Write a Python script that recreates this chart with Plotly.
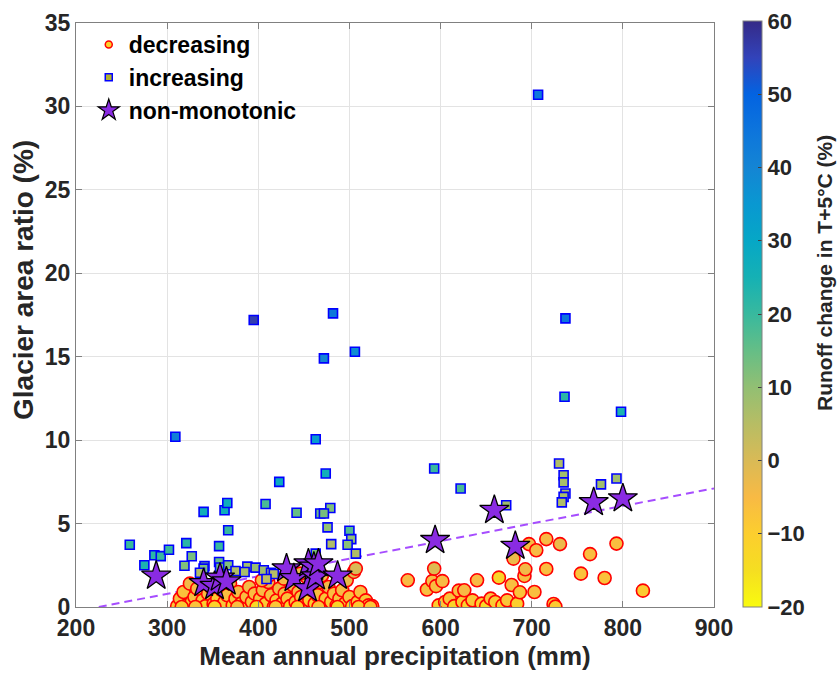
import plotly.graph_objects as go

# ---------------- data ----------------
# decreasing (circles): precipitation (mm), glacier area ratio (%), runoff change (%)
dec_x = [311, 314, 318, 321, 325, 327, 330, 333, 336, 339,
         342, 345, 348, 351, 355, 357, 360, 363, 366, 369,
         372, 375, 378, 381, 384, 387, 390, 393, 396, 399,
         402, 405, 408, 411, 414, 417, 420, 423, 426, 429,
         432, 435, 438, 441, 444, 447, 450, 453, 456, 459,
         462, 465, 468, 471, 474, 477, 480, 483, 486, 489,
         492, 495, 497, 500, 503, 505, 507, 509, 512, 515,
         518, 521, 525, 316, 331, 352, 377, 398, 419, 443,
         466, 487, 510, 523, 412, 428, 446, 470, 404, 458,
         564, 585, 591, 593, 595, 598, 602, 605, 610, 615,
         620, 624, 626, 630, 635, 640, 645, 650, 655, 660,
         664, 668, 673, 678, 680, 684, 687, 692, 693, 697,
         703, 705, 716, 716, 724, 726, 731, 754, 764, 780,
         793, 822]
dec_y = [0.05, 0.5, 0.9, 0.1, 1.4, 0.3, 0.6, 1.1, 0.0, 0.4,
         0.05, 0.8, 1.2, 0.2, 0.5, 0.0, 1.0, 0.3, 0.7, 1.4,
         0.1, 0.5, 0.9, 0.2, 0.0, 0.6, 1.2, 0.3, 0.8, 0.05,
         0.5, 1.0, 0.2, 1.5, 0.7, 0.0, 0.4, 1.1, 0.2, 0.8,
         0.5, 0.05, 1.3, 0.3, 0.9, 0.6, 0.1, 1.8, 0.4, 1.0,
         0.2, 0.7, 1.5, 0.0, 0.5, 1.2, 0.3, 0.8, 0.1, 0.5,
         1.0, 0.2, 1.6, 0.6, 0.05, 2.1, 2.3, 0.3, 0.9, 0.0,
         0.4, 0.1, 0.05, 0.0, 0.0, 0.0, 0.0, 0.0, 0.0, 0.0,
         0.0, 0.0, 0.0, 0.0, 1.9, 1.7, 2.0, 1.9, 1.6, 2.2,
         1.6, 1.05, 1.55, 2.3, 1.25, 0.1, 1.55, 0.3, 0.5, 0.05,
         0.98, 0.3, 1.0, 0.1, 0.4, 1.6, 0.2, 0.05, 0.5, 0.3,
         1.76, 0.1, 0.4, 1.32, 2.9, 0.2, 0.88, 1.86, 2.26, 3.77,
         0.9, 3.4, 4.07, 2.28, 0.18, 0.02, 3.77, 2.0, 3.17, 1.74,
         3.8, 0.98]
dec_c = [-8, -6, -7, -10, -4, -9, -6, -5, -12, -8,
         -10, -6, -5, -7, -9, -13, -4, -8, -6, -3,
         -11, -7, -5, -9, -12, -6, -4, -8, -6, -10,
         -7, -5, -9, -3, -6, -13, -8, -4, -10, -6,
         -7, -12, -4, -8, -5, -7, -11, -2, -9, -5,
         -10, -6, -3, -14, -8, -4, -9, -6, -12, -7,
         -5, -10, -3, -7, -12, -1, 0, -9, -6, -14,
         -8, -11, -10, -9, -7, -11, -6, -13, -8, -10,
         -7, -12, -9, -8, -4, -5, -3, -4, -6, -2,
         -5, -6, -5, -1, -6, -10, -5, -8, -7, -12,
         -6, -9, -5, -11, -8, -5, -10, -13, -7, -9,
         -12, -11, -8, -6, -3, -10, -7, -6, -4, -5,
         -6, -5, -5, -6, -8, -9, -3, -7, -6, -7,
         -6, -9]

# increasing (squares)
inc_x = [707, 737, 395, 482, 472, 506, 309, 463, 423, 340,
         363, 366, 408, 442, 367, 259, 286, 293, 275, 302,
         321, 327, 319, 357, 341, 340, 336, 357, 358, 367,
         375, 388, 385, 397, 406, 414, 417, 409, 463, 468,
         474, 593, 622, 672, 479, 472, 476, 500, 502, 480,
         498, 507, 736, 798, 730, 735, 735, 737, 735, 733,
         776, 793]
inc_y = [30.7, 17.3, 17.2, 17.6, 14.9, 15.3, 10.2, 10.05, 7.5, 5.7,
         5.8, 6.23, 6.17, 5.65, 4.6, 3.73, 3.1, 3.05, 2.5, 3.43,
         3.83, 3.04, 2.47, 3.65, 2.45, 2.3, 2.05, 2.7, 2.37, 2.5,
         2.16, 2.42, 2.1, 2.36, 2.2, 2.05, 1.98, 1.68, 3.2, 5.6,
         8.0, 8.3, 7.1, 6.1, 5.93, 5.6, 4.77, 4.57, 4.07, 3.77,
         3.73, 3.2, 12.6, 11.7, 8.6, 7.9, 7.47, 6.8, 6.6, 6.27,
         7.35, 7.7]
inc_c = [44, 45, 56, 44, 40, 38, 42, 34, 28, 26,
         27, 27, 18, 15, 20, 20, 22, 20, 24, 20,
         22, 13, 12, 20, 13, 12, 6, 15, 14, 12,
         6, 8, 7, 9, 8, 6, 5, 4, 12, 14,
         26, 20, 18, 8, 12, 13, 10, 17, 10, 6,
         11, 6, 22, 24, 6, 8, 7, 6, 7, 6,
         8, 8]

# non-monotonic (stars)
non_x = [288, 340, 352, 358, 365, 431, 439, 454, 455, 461,
         463, 466, 487, 594, 659, 682, 768, 800]
non_y = [1.86, 1.42, 1.25, 1.75, 1.52, 2.3, 1.72, 1.12, 2.6, 2.4,
         1.82, 2.6, 1.86, 4.0, 5.8, 3.65, 6.27, 6.5]

# trend line (dashed)
trend_slope = 0.01053
trend_intercept = -2.37
trend_x_range = [225, 900]

x_ticks = [200, 300, 400, 500, 600, 700, 800, 900]
y_ticks = [0, 5, 10, 15, 20, 25, 30, 35]
cbar_ticks = [-20, -10, 0, 10, 20, 30, 40, 50, 60]

# ---------------- styling ----------------
FONT = "Arial, Liberation Sans, Helvetica, sans-serif"
parula_rev = [
    [0.0, "#f9fb0e"], [0.0625, "#f5de21"], [0.125, "#fcce2e"], [0.1875, "#f8ba44"],
    [0.25, "#d9ba56"], [0.3125, "#b7bd64"], [0.375, "#92bf73"], [0.4375, "#65be86"],
    [0.5, "#38b99e"], [0.5625, "#15b1b4"], [0.625, "#06a7c6"], [0.6875, "#0998d1"],
    [0.75, "#1485d4"], [0.8125, "#0d75dc"], [0.875, "#0363e1"], [0.9375, "#3243ba"],
    [1.0, "#352a87"],
]

fig = go.Figure()

tx = trend_x_range
fig.add_trace(go.Scatter(
    x=tx, y=[trend_slope * v + trend_intercept for v in tx],
    mode="lines", line=dict(color="#a64dff", width=2, dash="8px,5px"),
    showlegend=False, hoverinfo="skip"))

fig.add_trace(go.Scatter(
    x=dec_x, y=dec_y, mode="markers", showlegend=False,
    marker=dict(symbol="circle", size=13, color=dec_c, coloraxis="coloraxis",
                line=dict(color="#ff0000", width=1.6))))

fig.add_trace(go.Scatter(
    x=inc_x, y=inc_y, mode="markers", showlegend=False,
    marker=dict(symbol="square", size=9, color=inc_c, coloraxis="coloraxis",
                line=dict(color="#0000ff", width=1.6))))

fig.add_trace(go.Scatter(
    x=non_x, y=non_y, mode="markers", showlegend=False,
    marker=dict(symbol="star", size=22, color="#8a2be2",
                line=dict(color="#000000", width=1.3))))

# legend entries
fig.add_trace(go.Scatter(
    x=[None], y=[None], mode="markers", name="decreasing",
    marker=dict(symbol="circle", size=7, color="#fcd12a",
                line=dict(color="#ff0000", width=1.5))))
fig.add_trace(go.Scatter(
    x=[None], y=[None], mode="markers", name="increasing",
    marker=dict(symbol="square", size=7, color="#b0b030",
                line=dict(color="#0000ff", width=1.5))))
fig.add_trace(go.Scatter(
    x=[None], y=[None], mode="markers", name="non-monotonic",
    marker=dict(symbol="star", size=16, color="#8a2be2",
                line=dict(color="#000000", width=1.2))))

axis_common = dict(
    showgrid=True, gridcolor="#e3e3e3", gridwidth=1,
    showline=True, linecolor="#808080", linewidth=1, mirror="ticks",
    ticks="inside", ticklen=6, tickcolor="#808080",
    zeroline=False, automargin=False,
    tickfont=dict(family=FONT, size=23, color="#262626", weight="bold"),
)

fig.update_layout(
    width=837, height=676,
    margin=dict(l=76, r=123, t=23, b=69),
    paper_bgcolor="white", plot_bgcolor="white",
    font=dict(family=FONT),
    xaxis=dict(range=[200, 900], tickvals=x_ticks, **axis_common,
               title=dict(text="Mean annual precipitation (mm)", standoff=4,
                          font=dict(family=FONT, size=26, color="#262626", weight="bold"))),
    yaxis=dict(range=[0, 35], tickvals=y_ticks, **axis_common),
    coloraxis=dict(
        cmin=-20, cmax=60, colorscale=parula_rev,
        colorbar=dict(
            x=1.0455, xanchor="left", xref="paper",
            y=0, yanchor="bottom", lenmode="pixels", len=586,
            thickness=19, thicknessmode="pixels",
            outlinecolor="#808080", outlinewidth=1,
            ticks="inside", ticklen=4, tickcolor="#404040",
            tickvals=cbar_ticks, tickprefix="\u00a0", xpad=0, ypad=0,
            tickfont=dict(family=FONT, size=22, color="#262626", weight="bold"),
        ),
    ),
    legend=dict(x=0.02, y=1.0, xanchor="left", yanchor="top",
                bgcolor="rgba(0,0,0,0)", borderwidth=0,
                font=dict(family=FONT, size=23, color="#000000", weight="bold"),
                itemsizing="trace", tracegroupgap=0),
    annotations=[
        dict(text="Glacier area ratio (%)", textangle=-90, showarrow=False,
             xref="paper", yref="paper", x=-0.0815, y=0.56,
             xanchor="center", yanchor="middle",
             font=dict(family=FONT, size=28, color="#262626", weight="bold")),
        dict(text="Runoff change in T+5°C (%)", textangle=-90, showarrow=False,
             xref="paper", yref="paper", x=1.174, y=0.572,
             xanchor="center", yanchor="middle",
             font=dict(family=FONT, size=21, color="#262626", weight="bold")),
    ],
)

fig.write_html("out.html")
